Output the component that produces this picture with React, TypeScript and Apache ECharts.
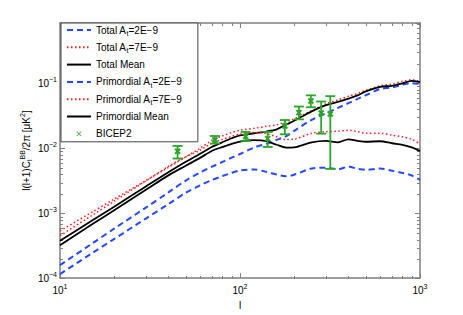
import React, { useEffect, useRef } from 'react';
import * as echarts from 'echarts';

// multipole values where the curves were read
const ells = [10, 15, 20, 30, 40, 50, 60, 70, 80, 90, 100, 120, 140, 160, 180, 200, 250, 300, 350, 400, 450, 500, 600, 700, 800, 900, 1000];

// l(l+1)C_l^BB/2pi [uK^2]
const totalAt2 = [1.58e-4, 3.37e-4, 5.78e-4, 1.22e-3, 2.09e-3, 3.18e-3, 4.22e-3, 5.21e-3, 6.18e-3, 7.16e-3, 8.16e-3, 0.01026, 0.01172, 0.01345, 0.01521, 0.01857, 0.0274, 0.0345, 0.0419, 0.0495, 0.0575, 0.0657, 0.0817, 0.0867, 0.0955, 0.1007, 0.0982];
const totalAt7 = [5.35e-4, 1.03e-3, 1.65e-3, 3.18e-3, 5.08e-3, 7.38e-3, 0.0100, 0.0133, 0.0155, 0.0175, 0.0190, 0.0203, 0.0218, 0.0230, 0.0256, 0.0284, 0.0378, 0.0484, 0.0557, 0.0631, 0.0701, 0.0780, 0.0917, 0.0973, 0.1074, 0.1132, 0.1074];
const totalMean = [3.75e-4, 7.64e-4, 1.26e-3, 2.58e-3, 4.27e-3, 6.19e-3, 8.22e-3, 0.01054, 0.01244, 0.01426, 0.01574, 0.01703, 0.01811, 0.01958, 0.02301, 0.02649, 0.03704, 0.04624, 0.05188, 0.05821, 0.06531, 0.07536, 0.08831, 0.0916, 0.1000, 0.1091, 0.1042];
const primAt2 = [1.15e-4, 2.40e-4, 4.01e-4, 8.26e-4, 1.38e-3, 2.06e-3, 2.68e-3, 3.25e-3, 3.73e-3, 4.19e-3, 4.54e-3, 4.70e-3, 4.34e-3, 3.94e-3, 3.70e-3, 3.91e-3, 4.87e-3, 5.01e-3, 4.75e-3, 5.19e-3, 4.84e-3, 4.66e-3, 4.87e-3, 4.51e-3, 4.17e-3, 3.80e-3, 3.27e-3];
const primAt7 = [4.51e-4, 9.18e-4, 1.53e-3, 3.15e-3, 5.25e-3, 7.40e-3, 9.3e-3, 0.0120, 0.0137, 0.0153, 0.0166, 0.0175, 0.0169, 0.0150, 0.0136, 0.0138, 0.0170, 0.0180, 0.0183, 0.0189, 0.0180, 0.0170, 0.0170, 0.0159, 0.0150, 0.0137, 0.0117];
const primMean = [3.22e-4, 6.68e-4, 1.11e-3, 2.29e-3, 3.82e-3, 5.38e-3, 7.11e-3, 9.16e-3, 0.01047, 0.01172, 0.01268, 0.01336, 0.01291, 0.01132, 0.01026, 0.01035, 0.01236, 0.01303, 0.01236, 0.01374, 0.01303, 0.01259, 0.01282, 0.01194, 0.01132, 0.01035, 0.00908];

// BICEP2 band powers
const bicepL = [45, 72.5, 107.5, 142.5, 177.5, 212.5, 247.5, 282.5, 317.5];
const bicepVal = [0.00899, 0.01343, 0.01514, 0.01409, 0.02203, 0.0354, 0.0535, 0.0349, 0.0337];
const bicepLo = [0.00695, 0.0118, 0.01294, 0.01047, 0.0164, 0.0279, 0.0428, 0.0168, 0.00481];
const bicepHi = [0.01084, 0.01545, 0.01783, 0.01783, 0.02723, 0.0439, 0.0653, 0.0525, 0.0635];

// axis ranges and minor tick values
const xMin = 10;
const xMax = 1000;
const yMin = 1e-4;
const yMax = 0.85;
const xMinorTicks = [20, 30, 40, 50, 60, 70, 80, 90, 200, 300, 400, 500, 600, 700, 800, 900];
const yMinorTicks = [2e-4, 3e-4, 4e-4, 5e-4, 6e-4, 7e-4, 8e-4, 9e-4, 2e-3, 3e-3, 4e-3, 5e-3, 6e-3, 7e-3, 8e-3, 9e-3, 2e-2, 3e-2, 4e-2, 5e-2, 6e-2, 7e-2, 8e-2, 9e-2, 0.2, 0.3, 0.4, 0.5, 0.6, 0.7, 0.8];

const legendNames = [
  'Total A_t=2E\u22129',
  'Total A_t=7E\u22129',
  'Total Mean',
  'Primordial A_t=2E\u22129',
  'Primordial A_t=7E\u22129',
  'Primordial Mean',
  'BICEP2',
];

const FONT = 'Liberation Sans, Arial, Helvetica, sans-serif';
const AXIS = '#7f7f7f';
const BLUE = '#2448ff';
const RED = '#ff1a1a';
const GREEN = '#2aa52a';

const powRich = {
  b: { fontSize: 10, lineHeight: 14, fontFamily: FONT, color: '#000' },
  s: { fontSize: 7, lineHeight: 6, verticalAlign: 'top', fontFamily: FONT, color: '#000' },
};
const powLabel = (v: number) => {
  const lg = Math.log10(v);
  const e = Math.round(lg);
  if (Math.abs(lg - e) > 0.01) return '';
  return `{b|10}{s|${e < 0 ? '\u2212' + -e : e}}`;
};

const xIcon = 'path://M-5,-5L-5,-5L-5,-5Z M15,15L15,15L15,15Z M0,1L1,0L5,4L9,0L10,1L6,5L10,9L9,10L5,6L1,10L0,9L4,5Z';

function lineSeries(name: string, values: number[], color: string, type: any, width: number) {
  return {
    type: 'line',
    name,
    xAxisIndex: 0,
    yAxisIndex: 0,
    data: ells.map((l, i) => [l, values[i]]),
    symbol: 'none',
    showSymbol: false,
    smooth: 0.3,
    lineStyle: { color, type, width },
    itemStyle: { color },
  };
}

function majorAxis(pos: string, dim: 'x' | 'y', labels: boolean) {
  const isX = dim === 'x';
  return {
    type: 'log',
    logBase: 10,
    gridIndex: 0,
    min: isX ? xMin : yMin,
    max: isX ? xMax : yMax,
    position: pos,
    axisLine: { show: true, lineStyle: { color: AXIS, width: 1.5 } },
    axisTick: { show: true, inside: true, length: 5, lineStyle: { color: AXIS, width: 1 } },
    minorTick: { show: false },
    splitLine: { show: false },
    axisLabel: labels
      ? { show: true, margin: isX ? 5 : 3, formatter: powLabel, rich: powRich, showMaxLabel: true }
      : { show: false },
  };
}

function minorAxis(pos: string, dim: 'x' | 'y') {
  const isX = dim === 'x';
  return {
    type: 'value',
    gridIndex: 1,
    min: Math.log10(isX ? xMin : yMin),
    max: Math.log10(isX ? xMax : yMax),
    position: pos,
    axisLine: { show: false, onZero: false },
    axisTick: {
      show: true,
      inside: true,
      length: 3,
      lineStyle: { color: AXIS, width: 1 },
      customValues: (isX ? xMinorTicks : yMinorTicks).map((v) => Math.log10(v)),
    },
    axisLabel: { show: false },
    splitLine: { show: false },
  };
}

export default function App() {
  const ref = useRef<HTMLDivElement>(null);
  useEffect(() => {
    const chart = echarts.init(ref.current!, null, { renderer: 'svg' });
    const xBottom: any = majorAxis('bottom', 'x', true);
    xBottom.name = 'l';
    xBottom.nameLocation = 'middle';
    xBottom.nameGap = 18;
    xBottom.nameTextStyle = { fontSize: 10, fontFamily: FONT, color: '#000' };
    const yLeft: any = majorAxis('left', 'y', true);
    yLeft.name = 'l(l+1)C{sub|l}{sup|BB}/2\u03c0 [\u03bcK{sup|2}]';
    yLeft.nameLocation = 'middle';
    yLeft.nameGap = 27;
    yLeft.nameMoveOverlap = false;
    yLeft.nameRotate = 90;
    yLeft.nameTextStyle = {
      fontSize: 10,
      lineHeight: 14,
      fontFamily: FONT,
      color: '#000',
      rich: {
        sub: { fontSize: 7, lineHeight: 8, verticalAlign: 'bottom', fontFamily: FONT, color: '#000' },
        sup: { fontSize: 7, lineHeight: 6, verticalAlign: 'top', fontFamily: FONT, color: '#000' },
      },
    };

    const option: any = {
      animation: false,
      backgroundColor: '#fff',
      grid: [
        { left: 60, right: 43, top: 23, bottom: 36, containLabel: false },
        { left: 60, right: 43, top: 23, bottom: 36, containLabel: false },
      ],
      xAxis: [xBottom, majorAxis('top', 'x', false), minorAxis('bottom', 'x'), minorAxis('top', 'x')],
      yAxis: [yLeft, majorAxis('right', 'y', false), minorAxis('left', 'y'), minorAxis('right', 'y')],
      legend: {
        orient: 'vertical',
        left: 61,
        top: 23,
        itemWidth: 24,
        itemHeight: 10,
        itemGap: 3.3,
        padding: [0, 16, 1, 5],
        backgroundColor: '#fff',
        borderColor: '#444',
        borderWidth: 1,
        selectedMode: false,
        textStyle: {
          fontSize: 10,
          lineHeight: 14,
          color: '#000',
          fontFamily: FONT,
          rich: { sub: { fontSize: 7, lineHeight: 8, verticalAlign: 'bottom', fontFamily: FONT, color: '#000' } },
        },
        formatter: (n: string) => n.replace('A_t', 'A{sub|t}'),
        data: legendNames.map((name) =>
          name === 'BICEP2' ? { name, icon: xIcon } : { name, itemStyle: { opacity: 0 } }
        ),
      },
      series: [
        lineSeries(legendNames[0], totalAt2, BLUE, [6, 4], 2),
        lineSeries(legendNames[1], totalAt7, RED, [1.5, 2.5], 1.5),
        lineSeries(legendNames[2], totalMean, '#000', 'solid', 1.8),
        lineSeries(legendNames[3], primAt2, BLUE, [6, 4], 2),
        lineSeries(legendNames[4], primAt7, RED, [1.5, 2.5], 1.5),
        lineSeries(legendNames[5], primMean, '#000', 'solid', 1.8),
        {
          type: 'custom',
          name: legendNames[6],
          xAxisIndex: 0,
          yAxisIndex: 0,
          data: bicepL.map((l, i) => [l, bicepVal[i], bicepLo[i], bicepHi[i]]),
          encode: { x: 0, y: [1, 2, 3] },
          itemStyle: { color: GREEN },
          z: 5,
          renderItem: (params: any, api: any) => {
            const l = api.value(0);
            const c = api.coord([l, api.value(1)]);
            const lo = api.coord([l, api.value(2)]);
            const hi = api.coord([l, api.value(3)]);
            const cap = 5;
            const m = 2.5;
            const st = { stroke: GREEN, lineWidth: 1.8 };
            return {
              type: 'group',
              children: [
                { type: 'line', shape: { x1: lo[0], y1: lo[1], x2: hi[0], y2: hi[1] }, style: st },
                { type: 'line', shape: { x1: lo[0] - cap, y1: lo[1], x2: lo[0] + cap, y2: lo[1] }, style: st },
                { type: 'line', shape: { x1: hi[0] - cap, y1: hi[1], x2: hi[0] + cap, y2: hi[1] }, style: st },
                { type: 'line', shape: { x1: c[0] - m, y1: c[1] - m, x2: c[0] + m, y2: c[1] + m }, style: { stroke: GREEN, lineWidth: 2 } },
                { type: 'line', shape: { x1: c[0] - m, y1: c[1] + m, x2: c[0] + m, y2: c[1] - m }, style: { stroke: GREEN, lineWidth: 2 } },
              ],
            };
          },
        },
      ],
    };
    chart.setOption(option);
    return () => chart.dispose();
  }, []);
  return (
    <div
      ref={ref}
      style={{ position: 'fixed', left: 0, top: 0, width: 463, height: 315, background: '#fff' }}
    />
  );
}
